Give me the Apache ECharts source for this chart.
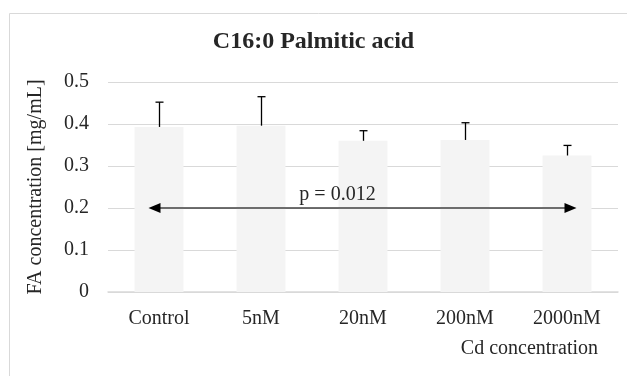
<!DOCTYPE html>
<html>
<head>
<meta charset="utf-8">
<script src="https://cdn.jsdelivr.net/npm/echarts@6/dist/echarts.min.js"></script>
<style>
  html, body { margin: 0; padding: 0; background: #fff; }
  #chart { width: 627px; height: 376px; }
</style>
</head>
<body>
<div id="chart"></div>
<script>
var categories = ['Control', '5nM', '20nM', '200nM', '2000nM'];
var means = [0.393, 0.396, 0.360, 0.362, 0.325];
var upperErrors = [0.059, 0.069, 0.024, 0.041, 0.024];
var yTicks = [0, 0.1, 0.2, 0.3, 0.4, 0.5];
// significance arrow: from first to last group, drawn at this level
var sigLevel = 0.2;
var sigLabel = 'p = 0.012';

var font = '"Liberation Serif", "DejaVu Serif", serif';
var ink = '#262626';

var chart = echarts.init(document.getElementById('chart'), null, { renderer: 'canvas' });

chart.setOption({
  animation: false,
  graphic: [
    {
      type: 'rect',
      shape: { x: 9.5, y: 13.5, width: 700, height: 500 },
      style: { fill: 'none', stroke: '#d9d9d9', lineWidth: 1 },
      silent: true
    },
    {
      type: 'text',
      left: 'center',
      top: 30,
      style: { text: 'C16:0 Palmitic acid', font: 'bold 24px ' + font, fill: ink }
    },
    {
      type: 'text',
      right: 29,
      top: 339,
      style: { text: 'Cd concentration', font: '20px ' + font, fill: ink }
    }
  ],
  grid: { left: 108, right: 9, top: 82, bottom: 84 },
  xAxis: {
    type: 'category',
    data: categories,
    axisTick: { show: false },
    axisLine: { lineStyle: { color: '#d9d9d9', width: 1.5 } },
    axisLabel: { color: ink, fontFamily: font, fontSize: 20, margin: 17 }
  },
  yAxis: {
    type: 'value',
    min: yTicks[0],
    max: yTicks[yTicks.length - 1],
    interval: 0.1,
    name: 'FA concentration [mg/mL]',
    nameLocation: 'middle',
    nameGap: 62,
    nameTextStyle: { color: ink, fontFamily: font, fontSize: 20 },
    axisLine: { show: false },
    axisTick: { show: false },
    axisLabel: { color: ink, fontFamily: font, fontSize: 20, margin: 19 },
    splitLine: { lineStyle: { color: '#d9d9d9', width: 1 } }
  },
  series: [
    {
      name: 'mean',
      type: 'bar',
      data: means,
      barWidth: '48%',
      itemStyle: { color: '#f4f4f4' },
      z: 2
    },
    {
      name: 'error',
      type: 'custom',
      data: means.map(function (m, i) { return [i, m, m + upperErrors[i]]; }),
      renderItem: function (params, api) {
        var base = api.coord([api.value(0), api.value(1)]);
        var top = api.coord([api.value(0), api.value(2)]);
        var x = Math.round(base[0]) + 0.5;
        return {
          type: 'group',
          children: [
            { type: 'line', shape: { x1: x, y1: base[1], x2: x, y2: top[1] },
              style: { stroke: '#000', lineWidth: 1.3 } },
            { type: 'line', shape: { x1: x - 4, y1: top[1], x2: x + 4, y2: top[1] },
              style: { stroke: '#000', lineWidth: 1.3 } }
          ]
        };
      },
      z: 3
    },
    {
      name: 'significance',
      type: 'custom',
      data: [[0, categories.length - 1, sigLevel]],
      renderItem: function (params, api) {
        var a = api.coord([api.value(0), api.value(2)]);
        var b = api.coord([api.value(1), api.value(2)]);
        var y = a[1];
        var x1 = a[0] - 10.5, x2 = b[0] + 9.5;
        var head = 12, half = 5;
        return {
          type: 'group',
          children: [
            { type: 'line', shape: { x1: x1 + 4, y1: y, x2: x2 - 4, y2: y },
              style: { stroke: '#404040', lineWidth: 1.5 } },
            { type: 'polygon', shape: { points: [[x1, y], [x1 + head, y - half], [x1 + head, y + half]] },
              style: { fill: '#000' } },
            { type: 'polygon', shape: { points: [[x2, y], [x2 - head, y - half], [x2 - head, y + half]] },
              style: { fill: '#000' } },
            { type: 'text', x: (x1 + x2) / 2 - 25, y: y - 3,
              style: { text: sigLabel, font: '20px ' + font, fill: ink, align: 'center', verticalAlign: 'bottom' } }
          ]
        };
      },
      z: 4
    }
  ]
});
</script>
</body>
</html>
